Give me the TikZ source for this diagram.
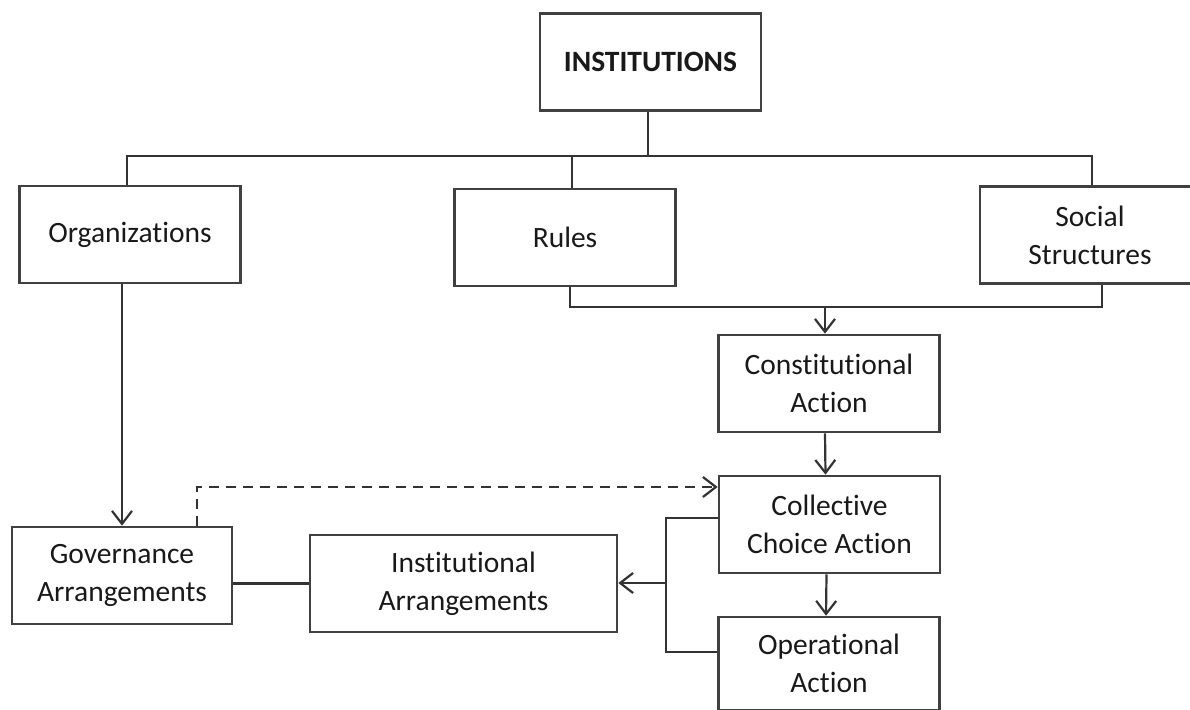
\documentclass[tikz,border=0pt]{standalone}
\usepackage{fontspec}
\setmainfont{Carlito}[RawFeature={-liga;-clig;-calt;-dlig}]
\usetikzlibrary{arrows.meta,calc}
\begin{document}
\begin{tikzpicture}[x=1pt,y=-1pt,
  box/.style={draw=black!75, line width=2.6pt, fill=white, inner sep=0pt,
    align=center, text=black!90, font=\fontsize{29.5}{38}\selectfont},
  std/.style={box, minimum width=221pt, minimum height=97pt},
  link/.style={draw=black!80, line width=2.2pt},
  tip/.style={-{Straight Barb[length=13pt,width=20pt,line width=2.2pt]}}
]
\useasboundingbox (0,0) rectangle (1190,709);
\clip (0,0) rectangle (1190,709);

% boxes
\node[std] (inst)     at (650.5,62)   {\textbf{INSTITUTIONS}};
\node[std] (org)      at (130,234.5)  {Organizations};
\node[std] (rules)    at (565,237.5)  {Rules};
\node[std, minimum width=220pt] (social) at (1090,235) {Social\\Structures};
\node[std] (const)    at (829,383.5)  {Constitutional\\Action};
\node[std] (coll)     at (829.5,524.5){Collective\\Choice Action};
\node[std, minimum height=93pt] (oper) at (829,663.5) {Operational\\Action};
\node[std, minimum width=220pt] (gov) at (122,575.5) {Governance\\Arrangements};
\node[box, minimum width=307pt, minimum height=97pt] (instarr) at (463.5,583.5) {Institutional\\Arrangements};

% junction points
\coordinate (bus)   at (648,156);
\coordinate (merge) at (825,307);
\coordinate (split) at (666,583);

% top tree
\draw[link] (inst.south -| bus) -- (bus);
\draw[link] ([xshift=-3pt]org.north) |- (bus) -| ([xshift=2pt]social.north);
\draw[link] ([xshift=7pt]rules.north) -- ([xshift=7pt]rules.north |- bus);

% rules and social structures feed constitutional action
\draw[link] ([xshift=5pt]rules.south) |- (merge) -| ([xshift=12pt]social.south);
\draw[link,tip] (merge) -- (merge |- const.north);

% levels of action
\draw[link,tip] ([xshift=-4pt]const.south) -- ([xshift=-4pt]coll.north);
\draw[link,tip] ([xshift=-3pt]coll.south) -- ([xshift=-3pt]oper.north);

% organizations to governance
\draw[link,tip] ([xshift=-8pt]org.south) -- ([xshift=-8pt]org.south |- gov.north);
\draw[link] (instarr.west) -- (instarr.west -| gov.east);
\draw[link,tip,dash pattern=on 10pt off 7pt] ([xshift=75pt]gov.north) |- ([yshift=37.5pt]coll.west);

% collective choice and operational action shape institutional arrangements
\draw[link] ([yshift=6.5pt]coll.west) -| (split) |- ([yshift=11.5pt]oper.west);
\draw[link,tip] (split) -- (split -| instarr.east);
\end{tikzpicture}
\end{document}
